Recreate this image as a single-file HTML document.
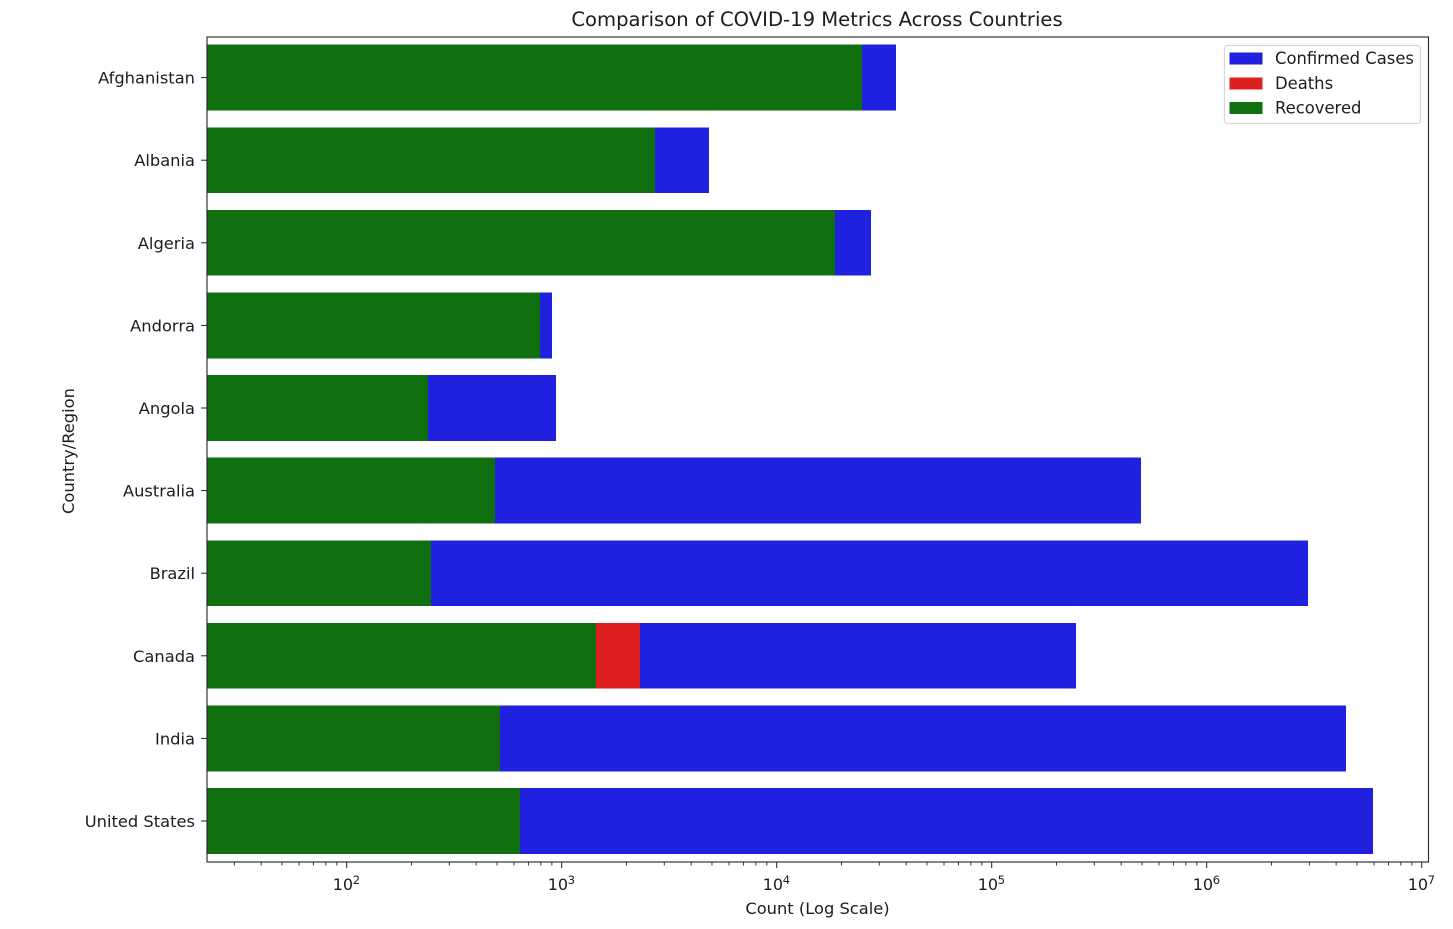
<!DOCTYPE html>
<html lang="en">
<head>
<meta charset="utf-8">
<title>Comparison of COVID-19 Metrics Across Countries</title>
<style>
html,body{margin:0;padding:0;background:#fff;width:1453px;height:929px;overflow:hidden}
svg{display:block}
text{font-family:"DejaVu Sans","Liberation Sans",sans-serif;fill:#1c1c1c}
</style>
</head>
<body>
<svg id="chart" xmlns="http://www.w3.org/2000/svg" width="1453" height="929" viewBox="0 0 1453 929">
  <g id="bars" shape-rendering="crispEdges"></g>
  <g id="axes"></g>
  <text x="817" y="26" text-anchor="middle" font-size="19.6">Comparison of COVID-19 Metrics Across Countries</text>
  <text x="817.5" y="914" text-anchor="middle" font-size="16.3">Count (Log Scale)</text>
  <text transform="translate(74,451) rotate(-90)" text-anchor="middle" font-size="16.3">Country/Region</text>
  <g>
    <rect x="1224.5" y="45.5" width="196" height="78" rx="3" fill="#fff" stroke="#d6d6d6" stroke-width="1.2"/>
    <rect x="1229.5" y="52.5" width="33" height="12" fill="#2020df"/>
    <text x="1275" y="64" font-size="16.4">Confirmed Cases</text>
    <rect x="1229.5" y="77.5" width="33" height="12" fill="#df2020"/>
    <text x="1275" y="89" font-size="16.4">Deaths</text>
    <rect x="1229.5" y="102" width="33" height="12" fill="#107010"/>
    <text x="1275" y="113.500" font-size="16.4">Recovered</text>
  </g>
</svg>
<script>
const countries = ["Afghanistan","Albania","Algeria","Andorra","Angola","Australia","Brazil","Canada","India","United States"];
const confirmed = [35900,4845,27500,900,941,494000,2960000,246700,4440000,5930000];
const deaths = [1300,130,1100,52,41,300,200,2313,400,500];
const recovered = [24900,2716,18700,793,239,490,247,1445,517,640];
const xDecades = [2,3,4,5,6,7];
const minorDecades = [1,2,3,4,5,6];

const NS = "http://www.w3.org/2000/svg";
const plotLeft = 207, plotRight = 1428.5, plotTop = 37, plotBottom = 862;
const firstBandCentre = 77.6, bandStep = 82.6, barHeight = 65.8;
const decadeWidth = 215, x100 = 346.7;

function xScale(v){ return x100 + (Math.log10(v) - 2) * decadeWidth; }
function yScale(i){ return firstBandCentre + i * bandStep; }

function make(tag, attrs, parent, txt){
  const el = document.createElementNS(NS, tag);
  for (const k in attrs) el.setAttribute(k, attrs[k]);
  if (txt !== undefined) el.textContent = txt;
  parent.appendChild(el);
  return el;
}

const barsG = document.getElementById('bars');
const axesG = document.getElementById('axes');

function drawSeries(values, colour, label){
  values.forEach(function(v, i){
    const x = xScale(v);
    const r = make('rect', {x: plotLeft, y: yScale(i) - barHeight / 2, width: Math.max(0, x - plotLeft), height: barHeight, fill: colour}, barsG);
    
    
  });
}
drawSeries(confirmed, '#2020df', 'confirmed');
drawSeries(deaths, '#df2020', 'deaths');
drawSeries(recovered, '#107010', 'recovered');

countries.forEach(function(name, i){
  const y = yScale(i);
  const t = make('line', {x1: plotLeft - 6, x2: plotLeft, y1: y, y2: y, stroke: '#222', 'stroke-width': 1}, axesG);
  
  
  const l = make('text', {x: 195, y: y + 6, 'text-anchor': 'end', 'font-size': 16.3}, axesG, name);
  
  
});

minorDecades.forEach(function(d){
  for (let m = 2; m <= 9; m++){
    const v = m * Math.pow(10, d);
    const x = xScale(v);
    if (x < plotLeft || x > plotRight) continue;
    const t = make('line', {x1: x, x2: x, y1: plotBottom, y2: plotBottom + 3.5, stroke: '#222', 'stroke-width': 0.9}, axesG);
    
    
  }
});

xDecades.forEach(function(d){
  const x = xScale(Math.pow(10, d));
  const t = make('line', {x1: x, x2: x, y1: plotBottom, y2: plotBottom + 6, stroke: '#222', 'stroke-width': 1}, axesG);
  
  
  const base = make('text', {x: x - 14, y: 890, 'font-size': 16}, axesG, '10');
  
  
  const exp = make('text', {x: x + 6, y: 884, 'font-size': 11.5}, axesG, String(d));
  
  
});

const frame = make('rect', {x: plotLeft, y: plotTop, width: plotRight - plotLeft, height: plotBottom - plotTop, fill: 'none', stroke: '#222', 'stroke-width': 1.1}, axesG);


</script>
</body>
</html>
